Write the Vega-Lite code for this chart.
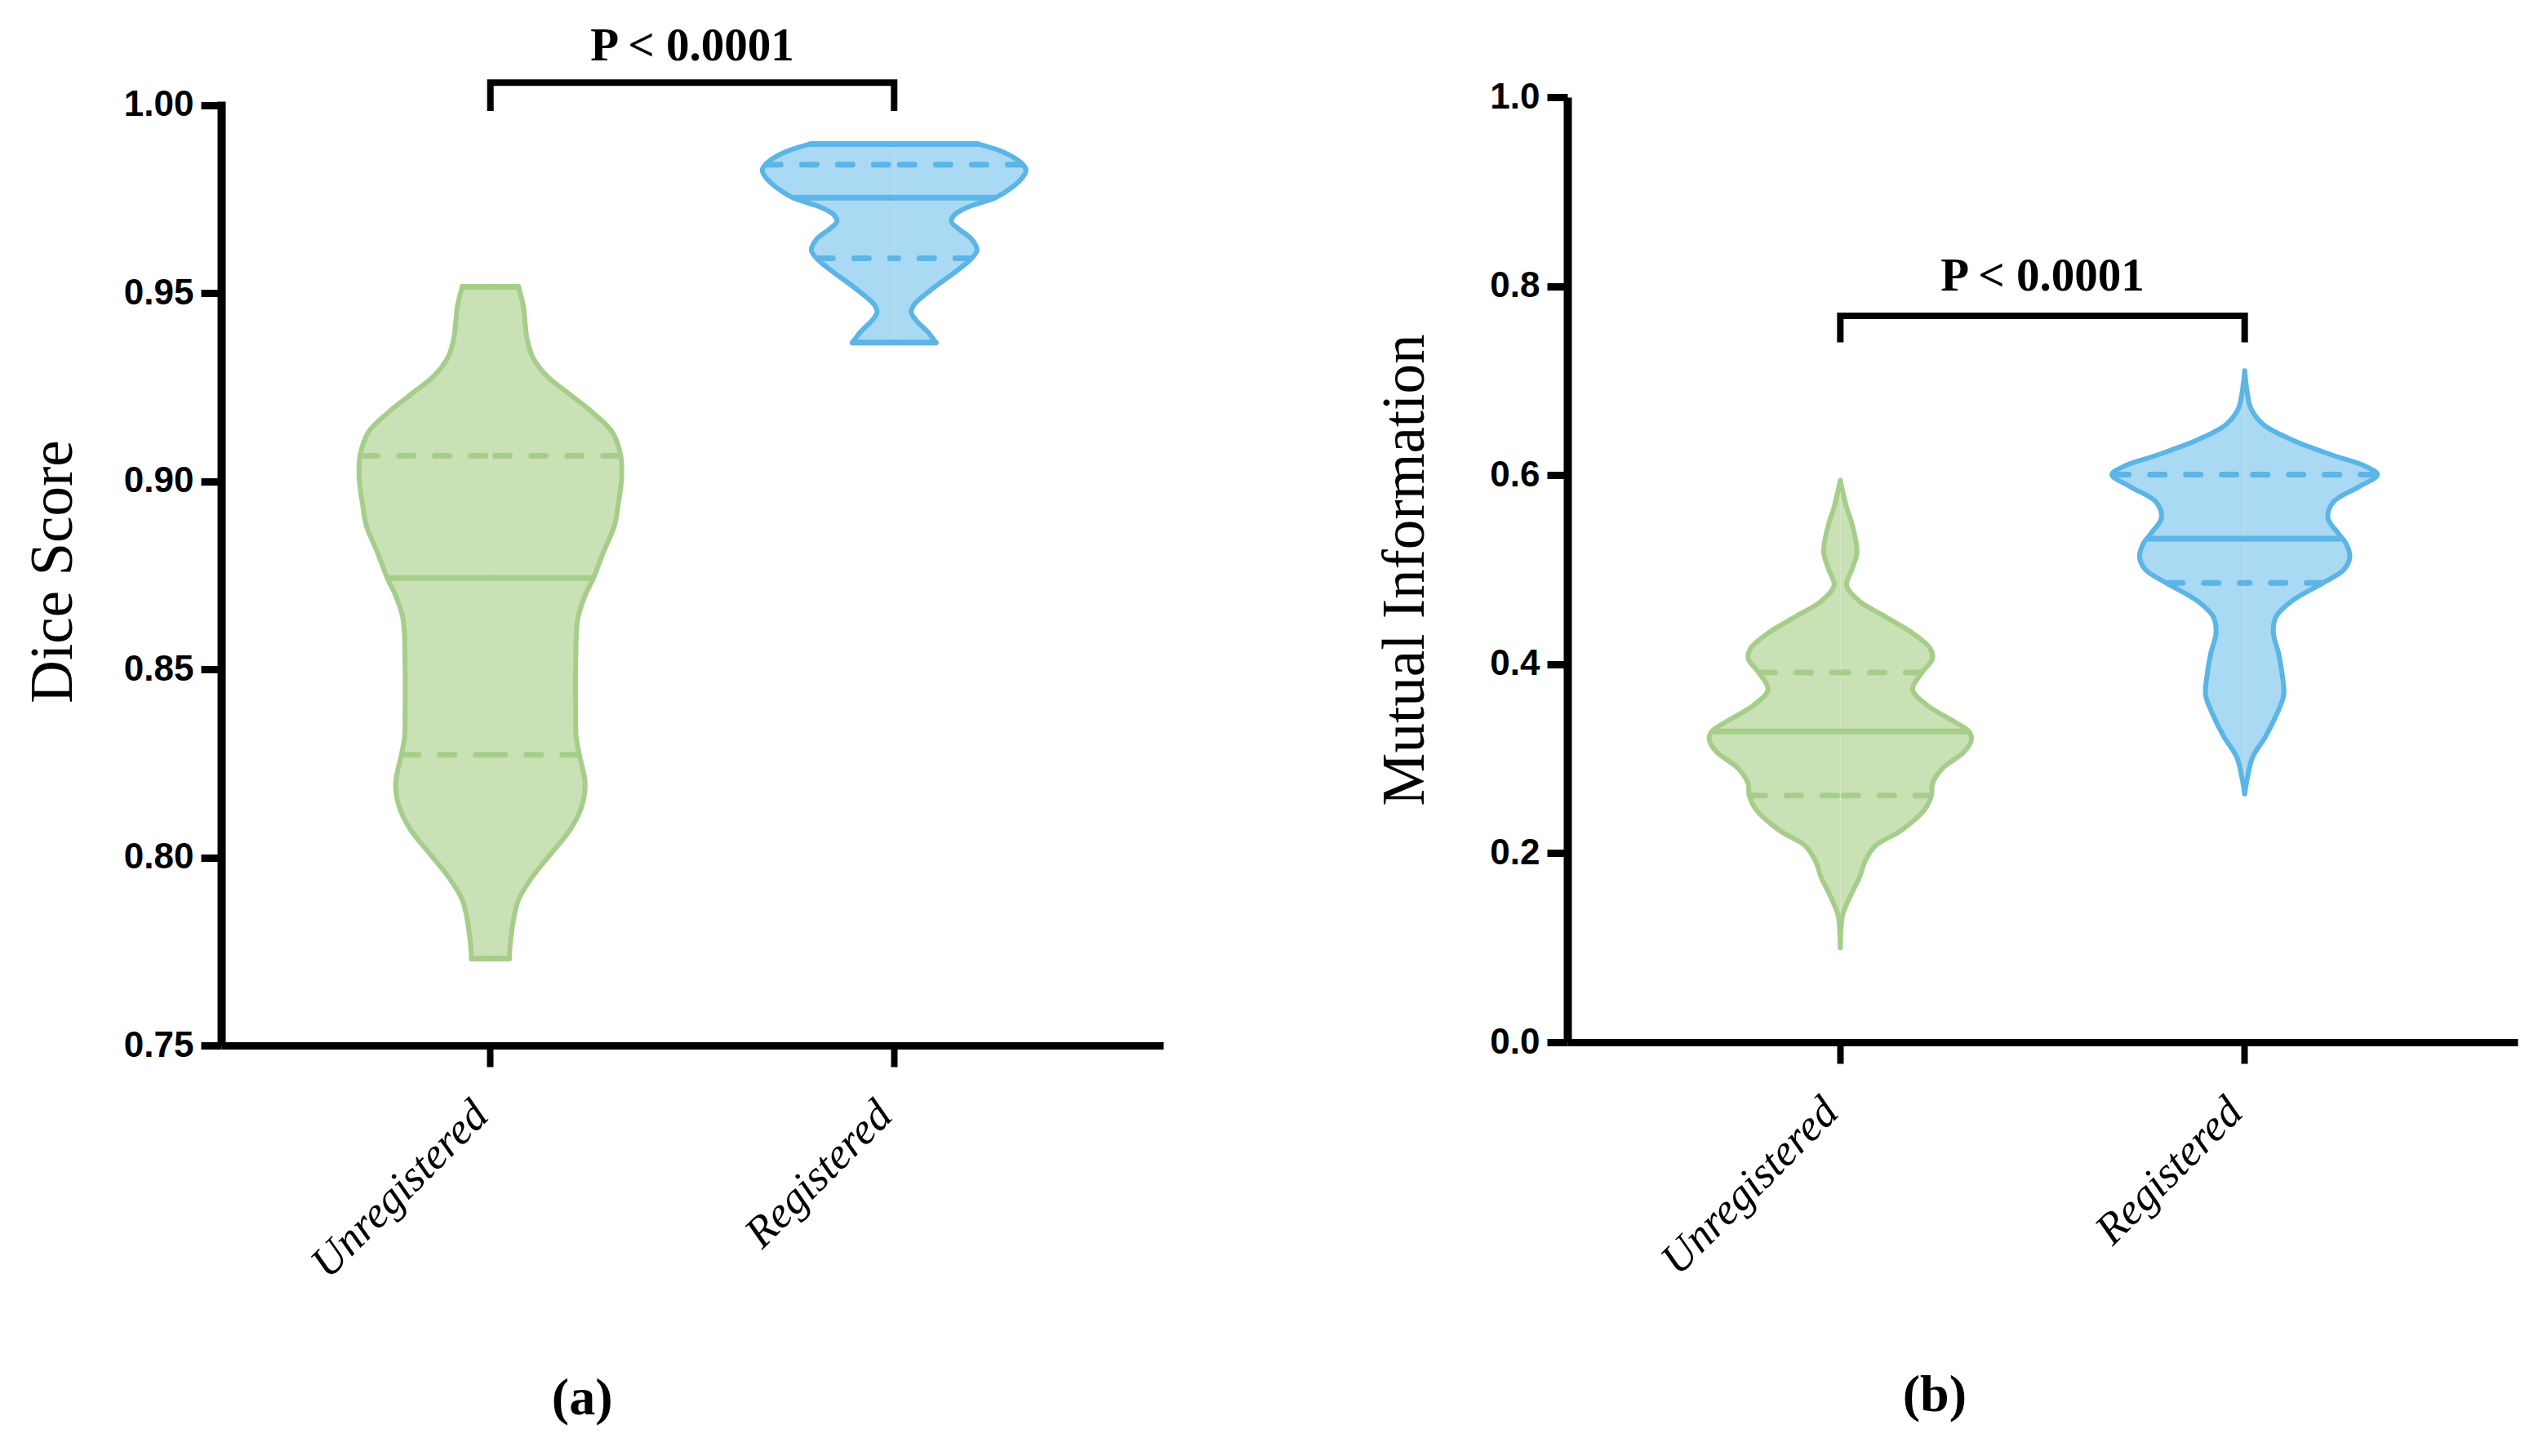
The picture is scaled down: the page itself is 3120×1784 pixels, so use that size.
{
"$schema":"https://vega.github.io/schema/vega-lite/v6.json",
"autosize":{"type":"none"},
"padding":{"left":271,"top":119,"right":2849,"bottom":1665},
"background":"white",
"config":{"view":{"stroke":null},"axis":{"grid":false}},
"datasets":{
"vio":[
{"panel":"dice","group":"Unregistered","i":1,"v":0.7731,"d":0.23},
{"panel":"dice","group":"Unregistered","i":2,"v":0.7763,"d":0.241},
{"panel":"dice","group":"Unregistered","i":3,"v":0.7825,"d":0.276},
{"panel":"dice","group":"Unregistered","i":4,"v":0.7887,"d":0.344},
{"panel":"dice","group":"Unregistered","i":5,"v":0.7949,"d":0.517},
{"panel":"dice","group":"Unregistered","i":6,"v":0.8011,"d":0.746},
{"panel":"dice","group":"Unregistered","i":7,"v":0.8073,"d":0.976},
{"panel":"dice","group":"Unregistered","i":8,"v":0.8136,"d":1.12},
{"panel":"dice","group":"Unregistered","i":9,"v":0.8198,"d":1.16},
{"panel":"dice","group":"Unregistered","i":10,"v":0.8273,"d":1.09},
{"panel":"dice","group":"Unregistered","i":11,"v":0.8322,"d":1.05},
{"panel":"dice","group":"Unregistered","i":12,"v":0.8385,"d":1.045},
{"panel":"dice","group":"Unregistered","i":13,"v":0.8509,"d":1.045},
{"panel":"dice","group":"Unregistered","i":14,"v":0.8634,"d":1.07},
{"panel":"dice","group":"Unregistered","i":15,"v":0.8696,"d":1.16},
{"panel":"dice","group":"Unregistered","i":16,"v":0.8743,"d":1.263},
{"panel":"dice","group":"Unregistered","i":17,"v":0.8808,"d":1.378},
{"panel":"dice","group":"Unregistered","i":18,"v":0.8883,"d":1.521},
{"panel":"dice","group":"Unregistered","i":19,"v":0.8932,"d":1.561},
{"panel":"dice","group":"Unregistered","i":20,"v":0.9007,"d":1.607},
{"panel":"dice","group":"Unregistered","i":21,"v":0.9069,"d":1.596},
{"panel":"dice","group":"Unregistered","i":22,"v":0.9131,"d":1.493},
{"panel":"dice","group":"Unregistered","i":23,"v":0.9181,"d":1.263},
{"panel":"dice","group":"Unregistered","i":24,"v":0.9231,"d":0.976},
{"panel":"dice","group":"Unregistered","i":25,"v":0.9281,"d":0.689},
{"panel":"dice","group":"Unregistered","i":26,"v":0.9331,"d":0.517},
{"panel":"dice","group":"Unregistered","i":27,"v":0.9380,"d":0.448},
{"panel":"dice","group":"Unregistered","i":28,"v":0.9468,"d":0.402},
{"panel":"dice","group":"Unregistered","i":29,"v":0.9517,"d":0.344},
{"panel":"dice","group":"Registered","i":1,"v":0.9369,"d":0.51},
{"panel":"dice","group":"Registered","i":2,"v":0.9398,"d":0.41},
{"panel":"dice","group":"Registered","i":3,"v":0.9427,"d":0.275},
{"panel":"dice","group":"Registered","i":4,"v":0.9449,"d":0.21},
{"panel":"dice","group":"Registered","i":5,"v":0.9470,"d":0.245},
{"panel":"dice","group":"Registered","i":6,"v":0.9514,"d":0.48},
{"panel":"dice","group":"Registered","i":7,"v":0.9557,"d":0.75},
{"panel":"dice","group":"Registered","i":8,"v":0.9593,"d":0.95},
{"panel":"dice","group":"Registered","i":9,"v":0.9615,"d":1.015},
{"panel":"dice","group":"Registered","i":10,"v":0.9644,"d":0.95},
{"panel":"dice","group":"Registered","i":11,"v":0.9673,"d":0.78},
{"panel":"dice","group":"Registered","i":12,"v":0.9691,"d":0.70},
{"panel":"dice","group":"Registered","i":13,"v":0.9709,"d":0.74},
{"panel":"dice","group":"Registered","i":14,"v":0.9730,"d":0.91},
{"panel":"dice","group":"Registered","i":15,"v":0.9754,"d":1.24},
{"panel":"dice","group":"Registered","i":16,"v":0.9781,"d":1.44},
{"panel":"dice","group":"Registered","i":17,"v":0.9810,"d":1.58},
{"panel":"dice","group":"Registered","i":18,"v":0.9828,"d":1.615},
{"panel":"dice","group":"Registered","i":19,"v":0.9846,"d":1.56},
{"panel":"dice","group":"Registered","i":20,"v":0.9875,"d":1.34},
{"panel":"dice","group":"Registered","i":21,"v":0.9897,"d":1.025},
{"panel":"mi","group":"Unregistered","i":0,"v":0.1001,"d":0},
{"panel":"mi","group":"Unregistered","i":1,"v":0.1249,"d":0.013},
{"panel":"mi","group":"Unregistered","i":2,"v":0.1359,"d":0.032},
{"panel":"mi","group":"Unregistered","i":3,"v":0.1579,"d":0.14},
{"panel":"mi","group":"Unregistered","i":4,"v":0.1745,"d":0.236},
{"panel":"mi","group":"Unregistered","i":5,"v":0.1910,"d":0.30},
{"panel":"mi","group":"Unregistered","i":6,"v":0.2076,"d":0.427},
{"panel":"mi","group":"Unregistered","i":7,"v":0.2241,"d":0.746},
{"panel":"mi","group":"Unregistered","i":8,"v":0.2462,"d":1.033},
{"panel":"mi","group":"Unregistered","i":9,"v":0.2610,"d":1.116},
{"panel":"mi","group":"Unregistered","i":10,"v":0.2737,"d":1.129},
{"panel":"mi","group":"Unregistered","i":11,"v":0.2902,"d":1.256},
{"panel":"mi","group":"Unregistered","i":12,"v":0.3067,"d":1.511},
{"panel":"mi","group":"Unregistered","i":13,"v":0.3206,"d":1.607},
{"panel":"mi","group":"Unregistered","i":14,"v":0.3288,"d":1.575},
{"panel":"mi","group":"Unregistered","i":15,"v":0.3398,"d":1.384},
{"panel":"mi","group":"Unregistered","i":16,"v":0.3564,"d":1.065},
{"panel":"mi","group":"Unregistered","i":17,"v":0.3729,"d":0.886},
{"panel":"mi","group":"Unregistered","i":18,"v":0.3911,"d":1.00},
{"panel":"mi","group":"Unregistered","i":19,"v":0.4060,"d":1.129},
{"panel":"mi","group":"Unregistered","i":20,"v":0.4170,"d":1.097},
{"panel":"mi","group":"Unregistered","i":21,"v":0.4335,"d":0.874},
{"panel":"mi","group":"Unregistered","i":22,"v":0.4500,"d":0.555},
{"panel":"mi","group":"Unregistered","i":23,"v":0.4666,"d":0.236},
{"panel":"mi","group":"Unregistered","i":24,"v":0.4832,"d":0.077},
{"panel":"mi","group":"Unregistered","i":25,"v":0.4997,"d":0.14},
{"panel":"mi","group":"Unregistered","i":26,"v":0.5190,"d":0.204},
{"panel":"mi","group":"Unregistered","i":27,"v":0.5493,"d":0.14},
{"panel":"mi","group":"Unregistered","i":28,"v":0.5659,"d":0.077},
{"panel":"mi","group":"Unregistered","i":29,"v":0.5945,"d":0},
{"panel":"mi","group":"Registered","i":0,"v":0.2627,"d":0},
{"panel":"mi","group":"Registered","i":1,"v":0.2792,"d":0.032},
{"panel":"mi","group":"Registered","i":2,"v":0.3013,"d":0.096},
{"panel":"mi","group":"Registered","i":3,"v":0.3233,"d":0.255},
{"panel":"mi","group":"Registered","i":4,"v":0.3454,"d":0.383},
{"panel":"mi","group":"Registered","i":5,"v":0.3674,"d":0.478},
{"panel":"mi","group":"Registered","i":6,"v":0.3894,"d":0.459},
{"panel":"mi","group":"Registered","i":7,"v":0.4115,"d":0.415},
{"panel":"mi","group":"Registered","i":8,"v":0.4335,"d":0.351},
{"panel":"mi","group":"Registered","i":9,"v":0.4500,"d":0.383},
{"panel":"mi","group":"Registered","i":10,"v":0.4666,"d":0.574},
{"panel":"mi","group":"Registered","i":11,"v":0.4859,"d":0.957},
{"panel":"mi","group":"Registered","i":12,"v":0.4997,"d":1.212},
{"panel":"mi","group":"Registered","i":13,"v":0.5135,"d":1.288},
{"panel":"mi","group":"Registered","i":14,"v":0.5272,"d":1.244},
{"panel":"mi","group":"Registered","i":15,"v":0.5383,"d":1.148},
{"panel":"mi","group":"Registered","i":16,"v":0.5548,"d":1.02},
{"panel":"mi","group":"Registered","i":17,"v":0.5714,"d":1.084},
{"panel":"mi","group":"Registered","i":18,"v":0.5879,"d":1.403},
{"panel":"mi","group":"Registered","i":19,"v":0.6006,"d":1.626},
{"panel":"mi","group":"Registered","i":20,"v":0.6099,"d":1.467},
{"panel":"mi","group":"Registered","i":21,"v":0.6209,"d":1.084},
{"panel":"mi","group":"Registered","i":22,"v":0.6375,"d":0.574},
{"panel":"mi","group":"Registered","i":23,"v":0.6540,"d":0.223},
{"panel":"mi","group":"Registered","i":24,"v":0.6705,"d":0.077},
{"panel":"mi","group":"Registered","i":25,"v":0.6871,"d":0.032},
{"panel":"mi","group":"Registered","i":26,"v":0.7103,"d":0}
],
"qrt":[
{"panel":"dice","group":"Unregistered","v":0.9517,"d":0.344,"kind":"edge"},
{"panel":"dice","group":"Unregistered","v":0.9068,"d":1.56,"kind":"quartile"},
{"panel":"dice","group":"Unregistered","v":0.8743,"d":1.25,"kind":"median"},
{"panel":"dice","group":"Unregistered","v":0.8273,"d":1.06,"kind":"quartile"},
{"panel":"dice","group":"Unregistered","v":0.7731,"d":0.23,"kind":"edge"},
{"panel":"dice","group":"Registered","v":0.9897,"d":1.025,"kind":"edge"},
{"panel":"dice","group":"Registered","v":0.9842,"d":1.57,"kind":"quartile"},
{"panel":"dice","group":"Registered","v":0.9754,"d":1.22,"kind":"median"},
{"panel":"dice","group":"Registered","v":0.9593,"d":0.93,"kind":"quartile"},
{"panel":"dice","group":"Registered","v":0.9369,"d":0.51,"kind":"edge"},
{"panel":"mi","group":"Unregistered","v":0.3911,"d":0.98,"kind":"quartile"},
{"panel":"mi","group":"Unregistered","v":0.3288,"d":1.55,"kind":"median"},
{"panel":"mi","group":"Unregistered","v":0.2610,"d":1.10,"kind":"quartile"},
{"panel":"mi","group":"Registered","v":0.6006,"d":1.60,"kind":"quartile"},
{"panel":"mi","group":"Registered","v":0.5328,"d":1.18,"kind":"median"},
{"panel":"mi","group":"Registered","v":0.4859,"d":0.94,"kind":"quartile"}
],
"brk":[
{"panel":"dice","group":"Unregistered","v":0.9985,"i":0},
{"panel":"dice","group":"Unregistered","v":1.006,"i":1},
{"panel":"dice","group":"Registered","v":1.006,"i":2},
{"panel":"dice","group":"Registered","v":0.9985,"i":3},
{"panel":"mi","group":"Unregistered","v":0.7405,"i":0},
{"panel":"mi","group":"Unregistered","v":0.7685,"i":1},
{"panel":"mi","group":"Registered","v":0.7685,"i":2},
{"panel":"mi","group":"Registered","v":0.7405,"i":3}
],
"ptxt":[
{"panel":"dice","group":"Unregistered","v":1.012,"label":"P < 0.0001"},
{"panel":"mi","group":"Unregistered","v":0.795,"label":"P < 0.0001"}
]
},
"bounds":"flush",
"align":"none",
"spacing":495,
"hconcat":[
{
"width":1154,"height":1162,
"title":{"text":"(a)","orient":"bottom","anchor":"middle","frame":"bounds","font":"Liberation Serif","fontWeight":"bold","fontSize":64,"color":"black","offset":106,"dx":-14},
"resolve":{"scale":{"x":"independent"}},
"layer":[
{"layer":[
{"data":{"name":"vio"},"transform":[{"filter":{"field":"panel","equal":"dice"}},{"filter":{"field":"group","equal":"Unregistered"}}],"mark":{"type":"area","orient":"horizontal","interpolate":"catmull-rom","opacity":1,"fillOpacity":1},"encoding":{"y":{"field":"v","type":"quantitative","scale":{"domain":[0.75,1.00217],"nice":false,"zero":false}},"x":{"field":"d","type":"quantitative","stack":null,"scale":{"domain":[-3.297,8.243],"reverse":false,"nice":false,"zero":false},"axis":null},"x2":{"datum":0},"fill":{"field":"group","type":"nominal","scale":{"domain":["Unregistered","Registered"],"range":["#c9e1b4","#a9d9f3"]},"legend":null}}},
{"data":{"name":"vio"},"transform":[{"filter":{"field":"panel","equal":"dice"}},{"filter":{"field":"group","equal":"Unregistered"}}],"mark":{"type":"line","interpolate":"catmull-rom","strokeWidth":6,"strokeCap":"round","strokeJoin":"round"},"encoding":{"y":{"field":"v","type":"quantitative","scale":{"domain":[0.75,1.00217],"nice":false,"zero":false}},"x":{"field":"d","type":"quantitative","scale":{"domain":[-3.297,8.243],"reverse":false,"nice":false,"zero":false},"axis":null},"stroke":{"field":"group","type":"nominal","scale":{"domain":["Unregistered","Registered"],"range":["#a6ce8a","#5bb5e6"]},"legend":null},"order":{"field":"i","type":"quantitative"}}},
{"data":{"name":"qrt"},"transform":[{"filter":{"field":"panel","equal":"dice"}},{"filter":{"field":"group","equal":"Unregistered"}}],"mark":{"type":"rule","strokeWidth":7,"strokeCap":"round"},"encoding":{"y":{"field":"v","type":"quantitative","scale":{"domain":[0.75,1.00217],"nice":false,"zero":false}},"x":{"field":"d","type":"quantitative","scale":{"domain":[-3.297,8.243],"reverse":false,"nice":false,"zero":false},"axis":null},"x2":{"datum":0},"stroke":{"field":"group","type":"nominal","scale":{"domain":["Unregistered","Registered"],"range":["#a6ce8a","#5bb5e6"]},"legend":null},"strokeDash":{"field":"kind","type":"nominal","scale":{"domain":["median","quartile","edge"],"range":[[1,0],[18,26],[1,0]]},"legend":null}}}
]},
{"layer":[
{"data":{"name":"vio"},"transform":[{"filter":{"field":"panel","equal":"dice"}},{"filter":{"field":"group","equal":"Unregistered"}}],"mark":{"type":"area","orient":"horizontal","interpolate":"catmull-rom","opacity":1,"fillOpacity":1},"encoding":{"y":{"field":"v","type":"quantitative","scale":{"domain":[0.75,1.00217],"nice":false,"zero":false}},"x":{"field":"d","type":"quantitative","stack":null,"scale":{"domain":[-8.243,3.297],"reverse":true,"nice":false,"zero":false},"axis":null},"x2":{"datum":0},"fill":{"field":"group","type":"nominal","scale":{"domain":["Unregistered","Registered"],"range":["#c9e1b4","#a9d9f3"]},"legend":null}}},
{"data":{"name":"vio"},"transform":[{"filter":{"field":"panel","equal":"dice"}},{"filter":{"field":"group","equal":"Unregistered"}}],"mark":{"type":"line","interpolate":"catmull-rom","strokeWidth":6,"strokeCap":"round","strokeJoin":"round"},"encoding":{"y":{"field":"v","type":"quantitative","scale":{"domain":[0.75,1.00217],"nice":false,"zero":false}},"x":{"field":"d","type":"quantitative","scale":{"domain":[-8.243,3.297],"reverse":true,"nice":false,"zero":false},"axis":null},"stroke":{"field":"group","type":"nominal","scale":{"domain":["Unregistered","Registered"],"range":["#a6ce8a","#5bb5e6"]},"legend":null},"order":{"field":"i","type":"quantitative"}}},
{"data":{"name":"qrt"},"transform":[{"filter":{"field":"panel","equal":"dice"}},{"filter":{"field":"group","equal":"Unregistered"}}],"mark":{"type":"rule","strokeWidth":7,"strokeCap":"round"},"encoding":{"y":{"field":"v","type":"quantitative","scale":{"domain":[0.75,1.00217],"nice":false,"zero":false}},"x":{"field":"d","type":"quantitative","scale":{"domain":[-8.243,3.297],"reverse":true,"nice":false,"zero":false},"axis":null},"x2":{"datum":0},"stroke":{"field":"group","type":"nominal","scale":{"domain":["Unregistered","Registered"],"range":["#a6ce8a","#5bb5e6"]},"legend":null},"strokeDash":{"field":"kind","type":"nominal","scale":{"domain":["median","quartile","edge"],"range":[[1,0],[18,26],[1,0]]},"legend":null}}}
]},
{"layer":[
{"data":{"name":"vio"},"transform":[{"filter":{"field":"panel","equal":"dice"}},{"filter":{"field":"group","equal":"Registered"}}],"mark":{"type":"area","orient":"horizontal","interpolate":"catmull-rom","opacity":1,"fillOpacity":1},"encoding":{"y":{"field":"v","type":"quantitative","scale":{"domain":[0.75,1.00217],"nice":false,"zero":false}},"x":{"field":"d","type":"quantitative","stack":null,"scale":{"domain":[-8.243,3.297],"reverse":false,"nice":false,"zero":false},"axis":null},"x2":{"datum":0},"fill":{"field":"group","type":"nominal","scale":{"domain":["Unregistered","Registered"],"range":["#c9e1b4","#a9d9f3"]},"legend":null}}},
{"data":{"name":"vio"},"transform":[{"filter":{"field":"panel","equal":"dice"}},{"filter":{"field":"group","equal":"Registered"}}],"mark":{"type":"line","interpolate":"catmull-rom","strokeWidth":6,"strokeCap":"round","strokeJoin":"round"},"encoding":{"y":{"field":"v","type":"quantitative","scale":{"domain":[0.75,1.00217],"nice":false,"zero":false}},"x":{"field":"d","type":"quantitative","scale":{"domain":[-8.243,3.297],"reverse":false,"nice":false,"zero":false},"axis":null},"stroke":{"field":"group","type":"nominal","scale":{"domain":["Unregistered","Registered"],"range":["#a6ce8a","#5bb5e6"]},"legend":null},"order":{"field":"i","type":"quantitative"}}},
{"data":{"name":"qrt"},"transform":[{"filter":{"field":"panel","equal":"dice"}},{"filter":{"field":"group","equal":"Registered"}}],"mark":{"type":"rule","strokeWidth":7,"strokeCap":"round"},"encoding":{"y":{"field":"v","type":"quantitative","scale":{"domain":[0.75,1.00217],"nice":false,"zero":false}},"x":{"field":"d","type":"quantitative","scale":{"domain":[-8.243,3.297],"reverse":false,"nice":false,"zero":false},"axis":null},"x2":{"datum":0},"stroke":{"field":"group","type":"nominal","scale":{"domain":["Unregistered","Registered"],"range":["#a6ce8a","#5bb5e6"]},"legend":null},"strokeDash":{"field":"kind","type":"nominal","scale":{"domain":["median","quartile","edge"],"range":[[1,0],[18,26],[1,0]]},"legend":null}}}
]},
{"layer":[
{"data":{"name":"vio"},"transform":[{"filter":{"field":"panel","equal":"dice"}},{"filter":{"field":"group","equal":"Registered"}}],"mark":{"type":"area","orient":"horizontal","interpolate":"catmull-rom","opacity":1,"fillOpacity":1},"encoding":{"y":{"field":"v","type":"quantitative","scale":{"domain":[0.75,1.00217],"nice":false,"zero":false}},"x":{"field":"d","type":"quantitative","stack":null,"scale":{"domain":[-3.297,8.243],"reverse":true,"nice":false,"zero":false},"axis":null},"x2":{"datum":0},"fill":{"field":"group","type":"nominal","scale":{"domain":["Unregistered","Registered"],"range":["#c9e1b4","#a9d9f3"]},"legend":null}}},
{"data":{"name":"vio"},"transform":[{"filter":{"field":"panel","equal":"dice"}},{"filter":{"field":"group","equal":"Registered"}}],"mark":{"type":"line","interpolate":"catmull-rom","strokeWidth":6,"strokeCap":"round","strokeJoin":"round"},"encoding":{"y":{"field":"v","type":"quantitative","scale":{"domain":[0.75,1.00217],"nice":false,"zero":false}},"x":{"field":"d","type":"quantitative","scale":{"domain":[-3.297,8.243],"reverse":true,"nice":false,"zero":false},"axis":null},"stroke":{"field":"group","type":"nominal","scale":{"domain":["Unregistered","Registered"],"range":["#a6ce8a","#5bb5e6"]},"legend":null},"order":{"field":"i","type":"quantitative"}}},
{"data":{"name":"qrt"},"transform":[{"filter":{"field":"panel","equal":"dice"}},{"filter":{"field":"group","equal":"Registered"}}],"mark":{"type":"rule","strokeWidth":7,"strokeCap":"round"},"encoding":{"y":{"field":"v","type":"quantitative","scale":{"domain":[0.75,1.00217],"nice":false,"zero":false}},"x":{"field":"d","type":"quantitative","scale":{"domain":[-3.297,8.243],"reverse":true,"nice":false,"zero":false},"axis":null},"x2":{"datum":0},"stroke":{"field":"group","type":"nominal","scale":{"domain":["Unregistered","Registered"],"range":["#a6ce8a","#5bb5e6"]},"legend":null},"strokeDash":{"field":"kind","type":"nominal","scale":{"domain":["median","quartile","edge"],"range":[[1,0],[18,26],[1,0]]},"legend":null}}}
]},
{"layer":[
{"data":{"name":"brk"},"transform":[{"filter":{"field":"panel","equal":"dice"}}],"mark":{"type":"line","stroke":"black","strokeWidth":8,"strokeJoin":"miter","strokeCap":"butt"},"encoding":{"x":{"field":"group","type":"nominal","bandPosition":0.5,"scale":{"type":"band","domain":["Unregistered","Registered"],"paddingInner":0,"paddingOuter":0.1667},"axis":{"title":null,"domain":true,"domainColor":"black","domainWidth":9,"ticks":true,"tickColor":"black","tickWidth":8,"tickSize":26,"labelAngle":-45,"labelAlign":"right","labelBaseline":"bottom","labelOffset":8,"labelFont":"Liberation Serif","labelFontStyle":"italic","labelFontSize":54,"labelLimit":0,"labelColor":"black","labelPadding":70,"grid":false}},"y":{"field":"v","type":"quantitative","scale":{"domain":[0.75,1.00217],"nice":false,"zero":false},"axis":{"title":"Dice Score","values":[0.75,0.8,0.85,0.9,0.95,1.0],"format":".2f","domainColor":"black","domainWidth":10,"domainDash":[1157,4000],"tickColor":"black","tickWidth":9,"tickSize":25,"labelFont":"Liberation Sans","labelFontWeight":"bold","labelFontSize":44,"labelColor":"black","labelPadding":9,"titleFont":"Liberation Serif","titleFontWeight":"normal","titleFontSize":73,"titleColor":"black","titlePadding":49,"grid":false}},"order":{"field":"i","type":"quantitative"}}},
{"data":{"name":"ptxt"},"transform":[{"filter":{"field":"panel","equal":"dice"}}],"mark":{"type":"text","font":"Liberation Serif","fontWeight":"bold","fontSize":57,"align":"center","baseline":"alphabetic","color":"black"},"encoding":{"x":{"field":"group","type":"nominal","bandPosition":1,"scale":{"type":"band","domain":["Unregistered","Registered"],"paddingInner":0,"paddingOuter":0.1667}},"y":{"field":"v","type":"quantitative","scale":{"domain":[0.75,1.00217],"nice":false,"zero":false}},"text":{"field":"label"}}}
]}
]
},
{
"width":1164,"height":1158,
"title":{"text":"(b)","orient":"bottom","anchor":"middle","frame":"bounds","font":"Liberation Serif","fontWeight":"bold","fontSize":64,"color":"black","offset":106,"dx":-15},
"resolve":{"scale":{"x":"independent"}},
"layer":[
{"layer":[
{"data":{"name":"vio"},"transform":[{"filter":{"field":"panel","equal":"mi"}},{"filter":{"field":"group","equal":"Unregistered"}}],"mark":{"type":"area","orient":"horizontal","interpolate":"catmull-rom","opacity":1,"fillOpacity":1},"encoding":{"y":{"field":"v","type":"quantitative","scale":{"domain":[0,1],"nice":false,"zero":false}},"x":{"field":"d","type":"quantitative","stack":null,"scale":{"domain":[-3.3434,8.2966],"reverse":false,"nice":false,"zero":false},"axis":null},"x2":{"datum":0},"fill":{"field":"group","type":"nominal","scale":{"domain":["Unregistered","Registered"],"range":["#c9e1b4","#a9d9f3"]},"legend":null}}},
{"data":{"name":"vio"},"transform":[{"filter":{"field":"panel","equal":"mi"}},{"filter":{"field":"group","equal":"Unregistered"}}],"mark":{"type":"line","interpolate":"catmull-rom","strokeWidth":6,"strokeCap":"round","strokeJoin":"round"},"encoding":{"y":{"field":"v","type":"quantitative","scale":{"domain":[0,1],"nice":false,"zero":false}},"x":{"field":"d","type":"quantitative","scale":{"domain":[-3.3434,8.2966],"reverse":false,"nice":false,"zero":false},"axis":null},"stroke":{"field":"group","type":"nominal","scale":{"domain":["Unregistered","Registered"],"range":["#a6ce8a","#5bb5e6"]},"legend":null},"order":{"field":"i","type":"quantitative"}}},
{"data":{"name":"qrt"},"transform":[{"filter":{"field":"panel","equal":"mi"}},{"filter":{"field":"group","equal":"Unregistered"}}],"mark":{"type":"rule","strokeWidth":7,"strokeCap":"round"},"encoding":{"y":{"field":"v","type":"quantitative","scale":{"domain":[0,1],"nice":false,"zero":false}},"x":{"field":"d","type":"quantitative","scale":{"domain":[-3.3434,8.2966],"reverse":false,"nice":false,"zero":false},"axis":null},"x2":{"datum":0},"stroke":{"field":"group","type":"nominal","scale":{"domain":["Unregistered","Registered"],"range":["#a6ce8a","#5bb5e6"]},"legend":null},"strokeDash":{"field":"kind","type":"nominal","scale":{"domain":["median","quartile","edge"],"range":[[1,0],[18,26],[1,0]]},"legend":null}}}
]},
{"layer":[
{"data":{"name":"vio"},"transform":[{"filter":{"field":"panel","equal":"mi"}},{"filter":{"field":"group","equal":"Unregistered"}}],"mark":{"type":"area","orient":"horizontal","interpolate":"catmull-rom","opacity":1,"fillOpacity":1},"encoding":{"y":{"field":"v","type":"quantitative","scale":{"domain":[0,1],"nice":false,"zero":false}},"x":{"field":"d","type":"quantitative","stack":null,"scale":{"domain":[-8.2966,3.3434],"reverse":true,"nice":false,"zero":false},"axis":null},"x2":{"datum":0},"fill":{"field":"group","type":"nominal","scale":{"domain":["Unregistered","Registered"],"range":["#c9e1b4","#a9d9f3"]},"legend":null}}},
{"data":{"name":"vio"},"transform":[{"filter":{"field":"panel","equal":"mi"}},{"filter":{"field":"group","equal":"Unregistered"}}],"mark":{"type":"line","interpolate":"catmull-rom","strokeWidth":6,"strokeCap":"round","strokeJoin":"round"},"encoding":{"y":{"field":"v","type":"quantitative","scale":{"domain":[0,1],"nice":false,"zero":false}},"x":{"field":"d","type":"quantitative","scale":{"domain":[-8.2966,3.3434],"reverse":true,"nice":false,"zero":false},"axis":null},"stroke":{"field":"group","type":"nominal","scale":{"domain":["Unregistered","Registered"],"range":["#a6ce8a","#5bb5e6"]},"legend":null},"order":{"field":"i","type":"quantitative"}}},
{"data":{"name":"qrt"},"transform":[{"filter":{"field":"panel","equal":"mi"}},{"filter":{"field":"group","equal":"Unregistered"}}],"mark":{"type":"rule","strokeWidth":7,"strokeCap":"round"},"encoding":{"y":{"field":"v","type":"quantitative","scale":{"domain":[0,1],"nice":false,"zero":false}},"x":{"field":"d","type":"quantitative","scale":{"domain":[-8.2966,3.3434],"reverse":true,"nice":false,"zero":false},"axis":null},"x2":{"datum":0},"stroke":{"field":"group","type":"nominal","scale":{"domain":["Unregistered","Registered"],"range":["#a6ce8a","#5bb5e6"]},"legend":null},"strokeDash":{"field":"kind","type":"nominal","scale":{"domain":["median","quartile","edge"],"range":[[1,0],[18,26],[1,0]]},"legend":null}}}
]},
{"layer":[
{"data":{"name":"vio"},"transform":[{"filter":{"field":"panel","equal":"mi"}},{"filter":{"field":"group","equal":"Registered"}}],"mark":{"type":"area","orient":"horizontal","interpolate":"catmull-rom","opacity":1,"fillOpacity":1},"encoding":{"y":{"field":"v","type":"quantitative","scale":{"domain":[0,1],"nice":false,"zero":false}},"x":{"field":"d","type":"quantitative","stack":null,"scale":{"domain":[-8.2966,3.3434],"reverse":false,"nice":false,"zero":false},"axis":null},"x2":{"datum":0},"fill":{"field":"group","type":"nominal","scale":{"domain":["Unregistered","Registered"],"range":["#c9e1b4","#a9d9f3"]},"legend":null}}},
{"data":{"name":"vio"},"transform":[{"filter":{"field":"panel","equal":"mi"}},{"filter":{"field":"group","equal":"Registered"}}],"mark":{"type":"line","interpolate":"catmull-rom","strokeWidth":6,"strokeCap":"round","strokeJoin":"round"},"encoding":{"y":{"field":"v","type":"quantitative","scale":{"domain":[0,1],"nice":false,"zero":false}},"x":{"field":"d","type":"quantitative","scale":{"domain":[-8.2966,3.3434],"reverse":false,"nice":false,"zero":false},"axis":null},"stroke":{"field":"group","type":"nominal","scale":{"domain":["Unregistered","Registered"],"range":["#a6ce8a","#5bb5e6"]},"legend":null},"order":{"field":"i","type":"quantitative"}}},
{"data":{"name":"qrt"},"transform":[{"filter":{"field":"panel","equal":"mi"}},{"filter":{"field":"group","equal":"Registered"}}],"mark":{"type":"rule","strokeWidth":7,"strokeCap":"round"},"encoding":{"y":{"field":"v","type":"quantitative","scale":{"domain":[0,1],"nice":false,"zero":false}},"x":{"field":"d","type":"quantitative","scale":{"domain":[-8.2966,3.3434],"reverse":false,"nice":false,"zero":false},"axis":null},"x2":{"datum":0},"stroke":{"field":"group","type":"nominal","scale":{"domain":["Unregistered","Registered"],"range":["#a6ce8a","#5bb5e6"]},"legend":null},"strokeDash":{"field":"kind","type":"nominal","scale":{"domain":["median","quartile","edge"],"range":[[1,0],[18,26],[1,0]]},"legend":null}}}
]},
{"layer":[
{"data":{"name":"vio"},"transform":[{"filter":{"field":"panel","equal":"mi"}},{"filter":{"field":"group","equal":"Registered"}}],"mark":{"type":"area","orient":"horizontal","interpolate":"catmull-rom","opacity":1,"fillOpacity":1},"encoding":{"y":{"field":"v","type":"quantitative","scale":{"domain":[0,1],"nice":false,"zero":false}},"x":{"field":"d","type":"quantitative","stack":null,"scale":{"domain":[-3.3434,8.2966],"reverse":true,"nice":false,"zero":false},"axis":null},"x2":{"datum":0},"fill":{"field":"group","type":"nominal","scale":{"domain":["Unregistered","Registered"],"range":["#c9e1b4","#a9d9f3"]},"legend":null}}},
{"data":{"name":"vio"},"transform":[{"filter":{"field":"panel","equal":"mi"}},{"filter":{"field":"group","equal":"Registered"}}],"mark":{"type":"line","interpolate":"catmull-rom","strokeWidth":6,"strokeCap":"round","strokeJoin":"round"},"encoding":{"y":{"field":"v","type":"quantitative","scale":{"domain":[0,1],"nice":false,"zero":false}},"x":{"field":"d","type":"quantitative","scale":{"domain":[-3.3434,8.2966],"reverse":true,"nice":false,"zero":false},"axis":null},"stroke":{"field":"group","type":"nominal","scale":{"domain":["Unregistered","Registered"],"range":["#a6ce8a","#5bb5e6"]},"legend":null},"order":{"field":"i","type":"quantitative"}}},
{"data":{"name":"qrt"},"transform":[{"filter":{"field":"panel","equal":"mi"}},{"filter":{"field":"group","equal":"Registered"}}],"mark":{"type":"rule","strokeWidth":7,"strokeCap":"round"},"encoding":{"y":{"field":"v","type":"quantitative","scale":{"domain":[0,1],"nice":false,"zero":false}},"x":{"field":"d","type":"quantitative","scale":{"domain":[-3.3434,8.2966],"reverse":true,"nice":false,"zero":false},"axis":null},"x2":{"datum":0},"stroke":{"field":"group","type":"nominal","scale":{"domain":["Unregistered","Registered"],"range":["#a6ce8a","#5bb5e6"]},"legend":null},"strokeDash":{"field":"kind","type":"nominal","scale":{"domain":["median","quartile","edge"],"range":[[1,0],[18,26],[1,0]]},"legend":null}}}
]},
{"layer":[
{"data":{"name":"brk"},"transform":[{"filter":{"field":"panel","equal":"mi"}}],"mark":{"type":"line","stroke":"black","strokeWidth":8,"strokeJoin":"miter","strokeCap":"butt"},"encoding":{"x":{"field":"group","type":"nominal","bandPosition":0.5,"scale":{"type":"band","domain":["Unregistered","Registered"],"paddingInner":0,"paddingOuter":0.175},"axis":{"title":null,"domain":true,"domainColor":"black","domainWidth":9,"ticks":true,"tickColor":"black","tickWidth":8,"tickSize":26,"labelAngle":-45,"labelAlign":"right","labelBaseline":"bottom","labelOffset":8,"labelFont":"Liberation Serif","labelFontStyle":"italic","labelFontSize":54,"labelLimit":0,"labelColor":"black","labelPadding":70,"grid":false}},"y":{"field":"v","type":"quantitative","scale":{"domain":[0,1],"nice":false,"zero":false},"axis":{"title":"Mutual Information","values":[0,0.2,0.4,0.6,0.8,1.0],"format":".1f","domainColor":"black","domainWidth":10,"tickColor":"black","tickWidth":9,"tickSize":25,"labelFont":"Liberation Sans","labelFontWeight":"bold","labelFontSize":44,"labelColor":"black","labelPadding":9,"titleFont":"Liberation Serif","titleFontWeight":"normal","titleFontSize":73,"titleColor":"black","titlePadding":66,"grid":false}},"order":{"field":"i","type":"quantitative"}}},
{"data":{"name":"ptxt"},"transform":[{"filter":{"field":"panel","equal":"mi"}}],"mark":{"type":"text","font":"Liberation Serif","fontWeight":"bold","fontSize":57,"align":"center","baseline":"alphabetic","color":"black"},"encoding":{"x":{"field":"group","type":"nominal","bandPosition":1,"scale":{"type":"band","domain":["Unregistered","Registered"],"paddingInner":0,"paddingOuter":0.175}},"y":{"field":"v","type":"quantitative","scale":{"domain":[0,1],"nice":false,"zero":false}},"text":{"field":"label"}}}
]}
]
}
]
}
